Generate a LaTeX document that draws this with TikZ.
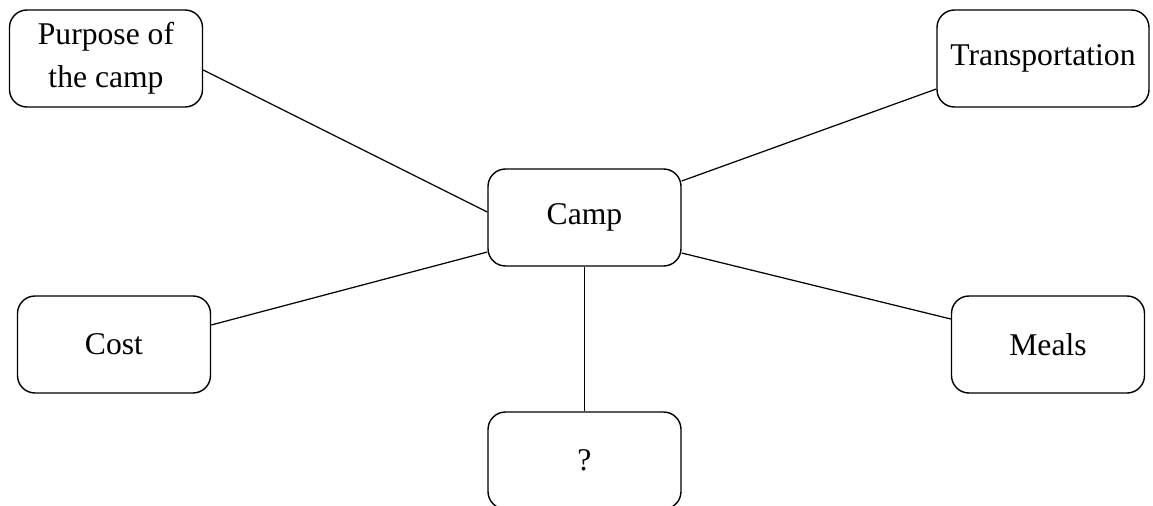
\documentclass[tikz,border=0pt]{standalone}
\usepackage{fontspec}
\setmainfont{Liberation Serif}

\tikzset{
  topic/.style={draw, line width=0.8pt, rounded corners=0.35cm,
    minimum width=3.86cm, minimum height=1.94cm, inner sep=2pt,
    align=center, font=\fontsize{18}{24.5}\selectfont},
  link/.style={line width=0.7pt}
}

\begin{document}
\begin{tikzpicture}
        % Fix the page to the reference size
        \useasboundingbox (0,0) rectangle (23.06,-10.1);

        % Central node
        \node[topic] (camp) at (11.69,-4.35) {Camp};

        % Surrounding topics
        \node[topic] (purpose) at (2.12,-1.17) {Purpose of\\the camp};
        \node[topic, minimum width=4.24cm] (transport) at (20.86,-1.17) {Transportation};
        \node[topic] (cost) at (2.28,-6.89) {Cost};
        \node[topic] (meals) at (20.96,-6.89) {Meals};
        \node[topic] (unknown) at (11.69,-9.21) {?};

        % Connect each topic to the centre
        \draw[link] ([yshift=-0.23cm]purpose.east) -- ([yshift=0.11cm]camp.west);
        \draw[link] ([yshift=-0.61cm]transport.west) -- ([yshift=0.73cm]camp.east);
        \draw[link] ([yshift=0.39cm]cost.east) -- ([yshift=-0.69cm]camp.west);
        \draw[link] ([yshift=0.51cm]meals.west) -- ([yshift=-0.71cm]camp.east);
        \draw[link] (camp.south) -- (unknown.north);
    \end{tikzpicture}
\end{document}
